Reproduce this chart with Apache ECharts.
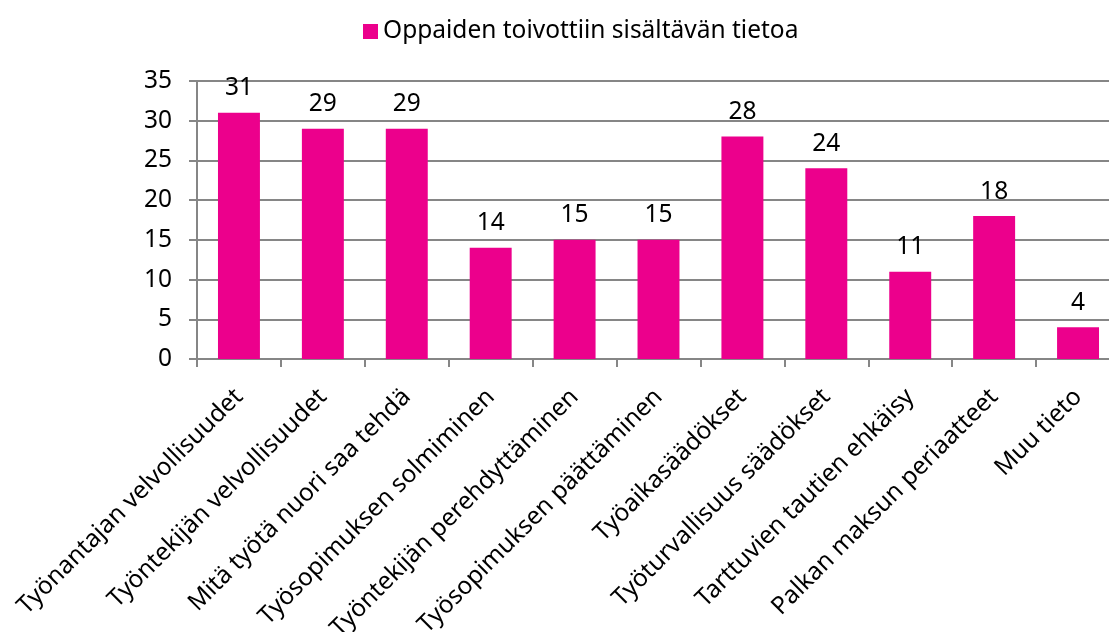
<!DOCTYPE html>
<html>
<head>
<meta charset="utf-8">
<script src="https://cdn.jsdelivr.net/npm/echarts@6/dist/echarts.min.js"></script>
<style>
  html, body { margin: 0; padding: 0; background: #fff; }
  #chart { width: 1109px; height: 632px; }
</style>
</head>
<body>
<div id="chart"></div>
<script>
var categories = [
  'Työnantajan velvollisuudet',
  'Työntekijän velvollisuudet',
  'Mitä työtä nuori saa tehdä',
  'Työsopimuksen solmiminen',
  'Työntekijän perehdyttäminen',
  'Työsopimuksen päättäminen',
  'Työaikasäädökset',
  'Työturvallisuus säädökset',
  'Tarttuvien tautien ehkäisy',
  'Palkan maksun periaatteet',
  'Muu tieto'
];
var values = [31, 29, 29, 14, 15, 15, 28, 24, 11, 18, 4];
var seriesName = 'Oppaiden toivottiin sisältävän tietoa';

var font = 'Noto Sans';
var chart = echarts.init(document.getElementById('chart'));
chart.setOption({
  animation: false,
  textStyle: { fontFamily: font },
  legend: {
    top: 14,
    left: 358,
    itemWidth: 15,
    itemHeight: 15,
    itemGap: 6,
    icon: 'rect',
    textStyle: { fontSize: 24.5, color: '#000', fontFamily: font },
    data: [seriesName]
  },
  grid: { left: 197, width: 923, top: 81, bottom: 273, outerBoundsMode: 'none' },
  xAxis: {
    type: 'category',
    data: categories,
    axisLine: { lineStyle: { color: '#868686', width: 2 } },
    axisTick: { show: true, length: 8, lineStyle: { color: '#868686', width: 2 } },
    axisLabel: { interval: 0, rotate: 45, fontSize: 24.5, color: '#000', margin: 34, fontFamily: font }
  },
  yAxis: {
    type: 'value',
    min: 0,
    max: 35,
    interval: 5,
    axisLine: { show: true, lineStyle: { color: '#868686', width: 2 } },
    axisTick: { show: true, length: 8, lineStyle: { color: '#868686', width: 2 } },
    splitLine: { lineStyle: { color: '#868686', width: 2 } },
    axisLabel: { fontSize: 24.5, color: '#000', margin: 25, fontFamily: font }
  },
  series: [{
    name: seriesName,
    type: 'bar',
    barWidth: '50%',
    data: values,
    itemStyle: { color: '#EC008C' },
    label: { show: true, position: 'top', distance: 12, fontSize: 24.5, color: '#000', fontFamily: font }
  }]
});
</script>
</body>
</html>
